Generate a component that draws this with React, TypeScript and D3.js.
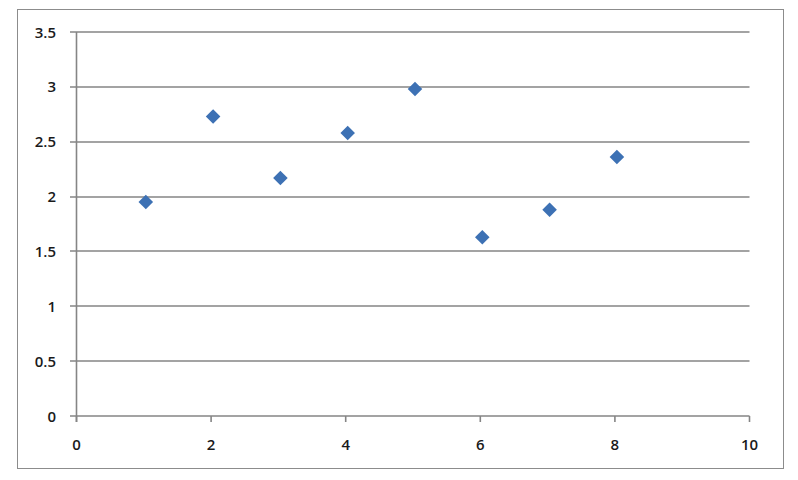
import React from "react";
import * as d3 from "d3";

const xValues = [1, 2, 3, 4, 5, 6, 7, 8];
const yValues = [1.95, 2.73, 2.17, 2.58, 2.98, 1.63, 1.88, 2.36];
const xTicks = [0, 2, 4, 6, 8, 10];
const yTicks = [0, 0.5, 1, 1.5, 2, 2.5, 3, 3.5];

const W = 798;
const H = 480;

export default function App() {
  const x = d3.scaleLinear().domain([0, 10]).range([76.5, 749.5]);
  const y = d3.scaleLinear().domain([0, 3.5]).range([416, 32]);
  const diamond = d3.symbol().type(d3.symbolDiamond2).size(135)();
  const gridColor = "#858585";
  const font = "'Open Sans', 'Noto Sans', sans-serif";
  return (
    <svg width={W} height={H} style={{ position: "absolute", left: 0, top: 0, background: "#fff" }}>
      <rect x={17.5} y={9.5} width={766} height={459} fill="#fff" stroke="#8c8c8c" strokeWidth={1} />
      {yTicks.map((t) => (
        <g key={"y" + t}>
          <line x1={70} x2={x(10)} y1={Math.round(y(t))} y2={Math.round(y(t))} stroke={gridColor} strokeWidth={1.6} />
          <text x={56} y={y(t) + 5.5} textAnchor="end" fontFamily={font} fontSize={15} fontWeight={600} fill="#1a1a1a">
            {t}
          </text>
        </g>
      ))}
      <line x1={x(0)} x2={x(0)} y1={y(3.5)} y2={y(0) + 6} stroke={gridColor} strokeWidth={1.6} />
      {xTicks.map((t) => (
        <g key={"x" + t}>
          <line x1={x(t)} x2={x(t)} y1={y(0)} y2={y(0) + 6} stroke={gridColor} strokeWidth={1.6} />
          <text x={x(t)} y={450} textAnchor="middle" fontFamily={font} fontSize={15} fontWeight={600} fill="#1a1a1a">
            {t}
          </text>
        </g>
      ))}
      {xValues.map((xv, i) => (
        <path key={i} d={diamond || ""} transform={`translate(${x(xv) + 2},${y(yValues[i])})`} fill="#3d71b4" />
      ))}
    </svg>
  );
}
